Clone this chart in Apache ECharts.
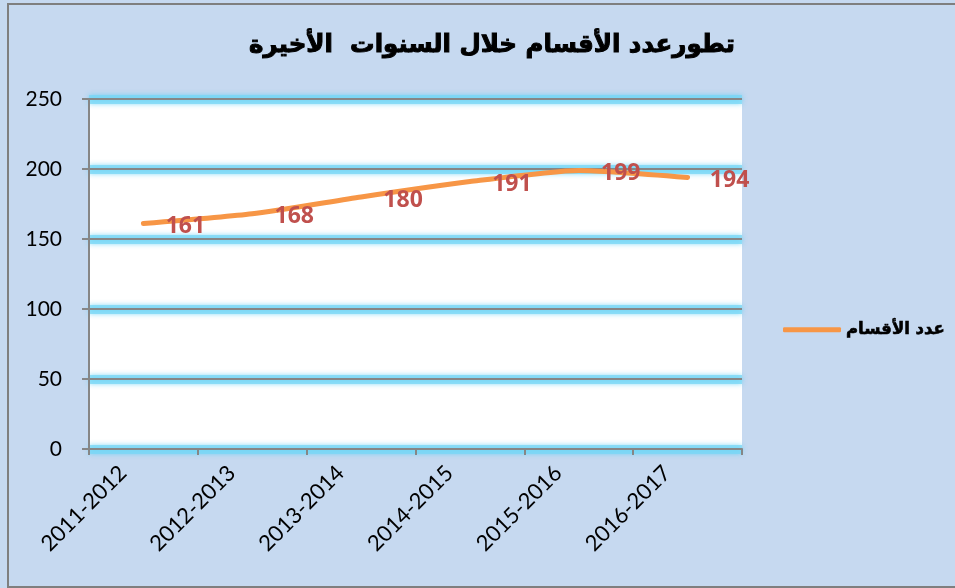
<!DOCTYPE html>
<html><head><meta charset="utf-8">
<script src="https://cdn.jsdelivr.net/npm/echarts@6/dist/echarts.min.js"></script>
<style>html,body{margin:0;padding:0;background:#C6D9F0}#c{width:955px;height:588px}</style>
</head><body><div id="c"></div>
<script>
const categories = ['2011-2012','2012-2013','2013-2014','2014-2015','2015-2016','2016-2017'];
const values = [161, 168, 180, 191, 199, 194];
const seriesName = 'عدد الأقسام';
const titleText = 'تطورعدد الأقسام خلال السنوات  الأخيرة';
const yTicks = {min: 0, max: 250, interval: 50};

const chart = echarts.init(document.getElementById('c'), null, {renderer: 'canvas'});
chart.setOption({
  backgroundColor: '#C6D9F0',
  animation: false,
  title: {
    text: titleText, left: 244, top: 28,
    textStyle: {fontFamily: 'DejaVu Sans', fontWeight: 'bold', fontSize: 24.5, color: '#000', textBorderColor: '#000', textBorderWidth: 1}
  },
  graphic: [{type: 'rect', shape: {x: 8, y: 4, width: 1000, height: 583}, style: {fill: 'none', stroke: '#7f7f7f', lineWidth: 2}, silent: true}],
  legend: {
    left: 778, top: 316, itemWidth: 58, itemHeight: 5, icon: 'roundRect', itemGap: 2,
    data: [{name: seriesName}],
    textStyle: {fontFamily: 'DejaVu Sans', fontWeight: 'bold', fontSize: 16.5, color: '#000', textBorderColor: '#000', textBorderWidth: 0.6}
  },
  grid: {left: 89, right: 213, top: 99, bottom: 139, show: true, backgroundColor: '#fff', borderWidth: 0},
  xAxis: {
    type: 'category', data: categories, boundaryGap: true,
    axisLine: {lineStyle: {color: '#868686', width: 2}},
    axisTick: {show: true, length: 6, lineStyle: {color: '#868686', width: 2}},
    axisLabel: {rotate: 45, margin: 0, color: '#000', fontFamily: 'Lato', fontSize: 22, padding: [0, 29, 26, 0]}
  },
  yAxis: [{
    type: 'value', min: yTicks.min, max: yTicks.max, interval: yTicks.interval, z: 0,
    axisLine: {show: false}, axisTick: {show: false}, axisLabel: {show: false},
    splitLine: {show: true, lineStyle: {color: 'rgba(120,215,245,0.75)', width: 9, shadowColor: 'rgba(80,205,245,0.9)', shadowBlur: 5}}
  }, {
    type: 'value', min: yTicks.min, max: yTicks.max, interval: yTicks.interval, z: 1, position: 'left',
    axisLine: {show: true, lineStyle: {color: '#868686', width: 2}},
    axisTick: {show: true, length: 7, lineStyle: {color: '#868686', width: 2}},
    axisLabel: {margin: 27, color: '#000', fontFamily: 'Lato', fontSize: 21},
    splitLine: {show: true, lineStyle: {color: '#868686', width: 2}}
  }],
  series: [{
    name: seriesName, type: 'line', data: values, smooth: 0.2, yAxisIndex: 1, z: 3,
    symbol: 'circle', symbolSize: 1,
    itemStyle: {color: '#F79646', opacity: 1},
    lineStyle: {color: '#F79646', width: 5, cap: 'round'},
    label: {show: true, position: 'inside', offset: [42, 3], color: '#C0504D', fontFamily: 'Open Sans', fontWeight: 'bold', fontSize: 23}
  }]
});
</script></body></html>
